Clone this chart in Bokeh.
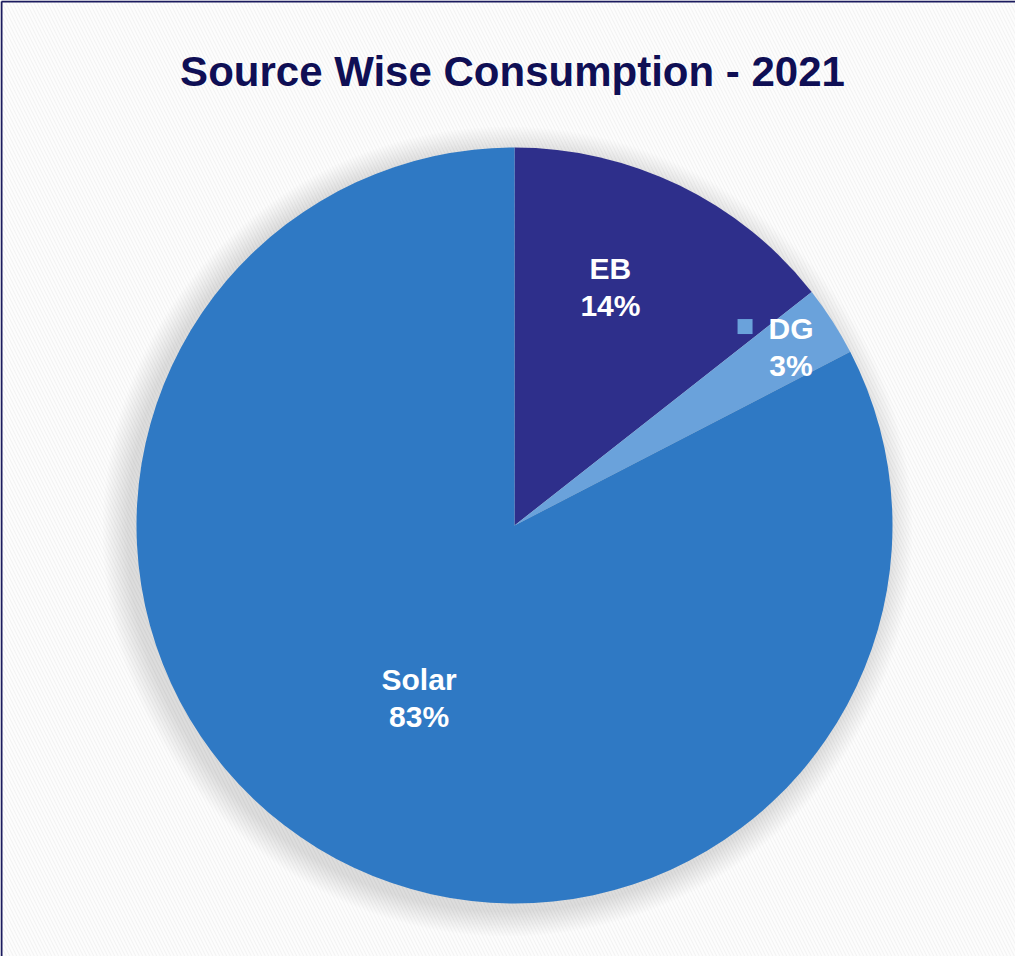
import math
from bokeh.plotting import figure
from bokeh.models import Range1d, Label
from bokeh.core.properties import value
from bokeh.embed import file_html
from bokeh.resources import INLINE

# ---- data ----
title_text = "Source Wise Consumption - 2021"
categories = ["EB", "DG", "Solar"]
shares = [14.4, 3.0, 82.6]
pct_labels = ["14%", "3%", "83%"]
colors = ["#2E2F8B", "#6AA2DB", "#2F79C4"]

W, H = 1015, 956
p = figure(width=W, height=H, output_backend="svg", toolbar_location=None,
           x_range=Range1d(0, W), y_range=Range1d(0, H), min_border=0)
p.axis.visible = False
p.grid.visible = False
p.outline_line_color = None
p.background_fill_color = "#F6F6F6"
p.border_fill_color = "#F6F6F6"

# subtle textured background
p.rect(x=[W / 2], y=[H / 2], width=[W], height=[H], fill_color="#F3F3F3",
       line_color=None, hatch_pattern="\\", hatch_color="#FFFFFF",
       hatch_alpha=0.8, hatch_scale=7, hatch_weight=2)

# border on top/left
p.segment(x0=[1, 1], y0=[0, H - 1], x1=[1, W], y1=[H - 1, H - 1],
          line_color="#1B1B5E", line_width=2)

cx, cy, R = 514, H - 525, 378

# soft shadow (offset toward lower-left)
for i in range(16):
    p.circle(x=[cx - 7], y=[cy - 6], radius=R + 3 + i * 1.6, radius_units="screen",
             fill_color="#000000", fill_alpha=0.009, line_color=None)

total = sum(shares)
angles = [s / total * 2 * math.pi for s in shares]
ends, starts = [], []
cur = math.pi / 2
for a in angles:
    ends.append(cur)
    starts.append(cur - a)
    cur -= a

p.wedge(x=[cx] * 3, y=[cy] * 3, radius=R, radius_units="screen",
        start_angle=starts, end_angle=ends, fill_color=colors, line_color=None)

# labels
radial = {"EB": 0.68, "DG": 0.87, "Solar": 0.53}
shift = {"EB": 0.07, "DG": 0.0, "Solar": 0.05}
dy = {"EB": 0, "DG": 0, "Solar": 3}
font = value("Liberation Sans")
for cat, s, e, pl in zip(categories, starts, ends, pct_labels):
    mid = (s + e) / 2 + shift[cat]
    lx = cx + R * radial[cat] * math.cos(mid)
    ly = cy + R * radial[cat] * math.sin(mid) + dy[cat]
    p.text(x=[lx, lx], y=[ly + 19, ly - 18], text=[cat, pl], text_color="white",
           text_font=font, text_font_style="bold", text_font_size="30px",
           text_align="center", text_baseline="middle")
    if cat == "DG":
        p.scatter(x=[lx - 46], y=[ly + 21], marker="square", size=15,
                  fill_color=colors[1], line_color=None)

p.add_layout(Label(x=512, y=H - 71, text=title_text, text_font="Liberation Sans",
                   text_font_style="bold", text_font_size="42px", text_color="#0F0F55",
                   text_align="center", text_baseline="middle"))

open("out.html", "w").write(file_html(p, INLINE))
